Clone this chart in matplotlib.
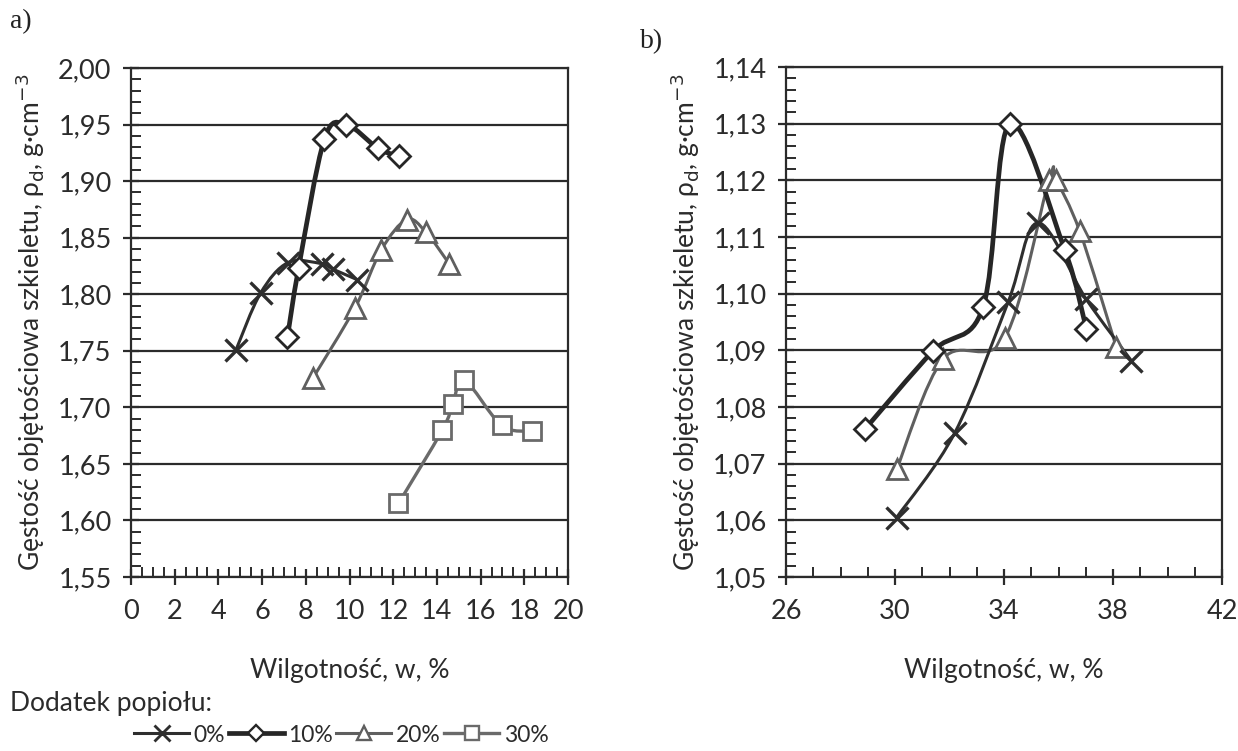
import numpy as np
import matplotlib
matplotlib.use("Agg")
import matplotlib.pyplot as plt
from matplotlib.path import Path
from matplotlib.patches import PathPatch
from matplotlib.lines import Line2D
from matplotlib.ticker import MultipleLocator, FixedLocator, FuncFormatter

plt.rcParams['font.family'] = ['Lato', 'DejaVu Sans']
plt.rcParams['mathtext.fontset'] = 'dejavusans'

# ---------------- data ----------------
series_names = ["0%", "10%", "20%", "30%"]

# panel a)
a_x_0 = [4.81, 5.93, 7.19, 8.72, 9.26, 10.34]
a_y_0 = [1.751, 1.801, 1.828, 1.827, 1.822, 1.813]
a_x_10 = [7.16, 7.67, 8.85, 9.85, 11.30, 12.26]
a_y_10 = [1.762, 1.823, 1.937, 1.950, 1.929, 1.922]
a_x_20 = [8.33, 10.25, 11.45, 12.62, 13.49, 14.56]
a_y_20 = [1.726, 1.788, 1.839, 1.866, 1.855, 1.827]
a_x_30 = [12.24, 14.25, 14.73, 15.26, 16.96, 18.33]
a_y_30 = [1.615, 1.680, 1.703, 1.724, 1.684, 1.679]

# panel b)
b_x_0 = [30.06, 32.20, 34.15, 35.25, 37.02, 38.67]
b_y_0 = [1.0605, 1.0755, 1.0985, 1.1125, 1.0990, 1.0882]
b_x_10 = [28.90, 31.40, 33.23, 34.21, 36.23, 37.02]
b_y_10 = [1.0761, 1.0899, 1.0976, 1.1300, 1.1077, 1.0938]
b_x_20 = [30.06, 31.77, 34.03, 35.65, 35.90, 36.78, 38.12]
b_y_20 = [1.0690, 1.0885, 1.0922, 1.1200, 1.1200, 1.1110, 1.0906]

a_xticks = [0, 2, 4, 6, 8, 10, 12, 14, 16, 18, 20]
b_xticks = [26, 30, 34, 38, 42]

# ---------------- styles ----------------
styles = {
    "0%":  dict(color="#2e2e2e", lw=2.2, marker="x", ms=16, mew=2.4),
    "10%": dict(color="#262626", lw=3.4, marker="D", ms=11, mew=2.0),
    "20%": dict(color="#5f5f5f", lw=2.2, marker="^", ms=14, mew=2.0),
    "30%": dict(color="#6a6a6a", lw=2.4, marker="s", ms=13, mew=2.0),
}


def smooth_path(x, y):
    """Catmull-Rom style Bezier through the points (like a spreadsheet's smoothed line)."""
    P = np.column_stack([x, y]).astype(float)
    n = len(P)
    verts = [P[0]]
    codes = [Path.MOVETO]
    for i in range(n - 1):
        p0 = P[i - 1] if i > 0 else P[i]
        p1 = P[i]
        p2 = P[i + 1]
        p3 = P[i + 2] if i + 2 < n else P[i + 1]
        c1 = p1 + (p2 - p0) / 6.0
        c2 = p2 - (p3 - p1) / 6.0
        verts += [c1, c2, p2]
        codes += [Path.CURVE4] * 3
    return Path(verts, codes)


def draw_series(ax, x, y, name):
    st = styles[name]
    patch = PathPatch(smooth_path(x, y), facecolor="none", edgecolor=st["color"],
                      lw=st["lw"], zorder=3, capstyle="round", joinstyle="round")
    ax.add_patch(patch)
    ax.plot(x, y, linestyle="none", marker=st["marker"], ms=st["ms"], mew=st["mew"],
            mec=st["color"], mfc="white" if st["marker"] != "x" else st["color"], zorder=4)


comma = FuncFormatter(lambda v, p: f"{v:.2f}".replace(".", ","))
comma0 = FuncFormatter(lambda v, p: f"{v:.0f}")

fig = plt.figure(figsize=(12.38, 7.51), dpi=100)
W, H = 1238, 751


def make_axes(l, r, t, b):
    return fig.add_axes([l / W, 1 - b / H, (r - l) / W, (b - t) / H])


axA = make_axes(131, 568, 68, 577)
axB = make_axes(786, 1222, 67, 577)

for ax, xlim, ylim, xticks, xmin, ymaj, ymin in [
    (axA, (0, 20), (1.55, 2.00), a_xticks, 0.5, 0.05, 0.01),
    (axB, (26, 42), (1.05, 1.14), b_xticks, 1, 0.01, 0.002),
]:
    ax.set_xlim(*xlim)
    ax.set_ylim(*ylim)
    ax.xaxis.set_major_locator(FixedLocator(xticks))
    ax.xaxis.set_minor_locator(MultipleLocator(xmin))
    ax.yaxis.set_major_locator(MultipleLocator(ymaj))
    ax.yaxis.set_minor_locator(MultipleLocator(ymin))
    ax.yaxis.set_major_formatter(comma)
    ax.xaxis.set_major_formatter(comma0)
    ax.grid(axis="y", which="major", color="#2b2b2b", lw=1.6)
    ax.set_axisbelow(True)
    for s in ax.spines.values():
        s.set_color("#2b2b2b")
        s.set_linewidth(1.6)
    ax.tick_params(axis="both", which="major", direction="inout", length=12, width=1.6,
                   color="#2b2b2b", labelsize=19.5, labelcolor="#2b2b2b")
    ax.tick_params(axis="x", which="major", pad=10)
    ax.tick_params(axis="y", which="major", pad=8)
    ax.tick_params(axis="both", which="minor", direction="in", length=7, width=1.4,
                   color="#2b2b2b")
    ax.set_xlabel("Wilgotność, w, %", fontsize=19, color="#2b2b2b", labelpad=24)
    ax.set_ylabel("Gęstość objętościowa szkieletu, ρ$_\\mathrm{d}$, g·cm$^{-3}$",
                  fontsize=19, color="#2b2b2b", labelpad=8)

draw_series(axA, a_x_0, a_y_0, "0%")
draw_series(axA, a_x_10, a_y_10, "10%")
draw_series(axA, a_x_20, a_y_20, "20%")
draw_series(axA, a_x_30, a_y_30, "30%")

draw_series(axB, b_x_20, b_y_20, "20%")
draw_series(axB, b_x_0, b_y_0, "0%")
draw_series(axB, b_x_10, b_y_10, "10%")

fig.text(10 / W, 1 - 22 / H, "a)", fontsize=20, family="Liberation Serif",
         va="center", ha="left", color="#222222")
fig.text(640 / W, 1 - 42 / H, "b)", fontsize=20, family="Liberation Serif",
         va="center", ha="left", color="#222222")

fig.text(10 / W, 1 - 704 / H, "Dodatek popiołu:", fontsize=19, va="center",
         ha="left", color="#2b2b2b")

handles = []
for name in series_names:
    st = styles[name]
    handles.append(Line2D([], [], color=st["color"], lw=st["lw"], marker=st["marker"],
                          ms=st["ms"] * 0.75, mew=st["mew"] * 0.85, mec=st["color"],
                          mfc="white" if st["marker"] != "x" else st["color"]))
leg = fig.legend(handles, series_names, loc="center left",
                 bbox_to_anchor=(134 / W, 1 - 735 / H), ncol=4, frameon=False,
                 fontsize=16.5, handlelength=2.4, handletextpad=0.2, columnspacing=0.15,
                 borderpad=0, borderaxespad=0)
for t in leg.get_texts():
    t.set_color("#2b2b2b")

fig.savefig("out.png", dpi=100, facecolor="white")
